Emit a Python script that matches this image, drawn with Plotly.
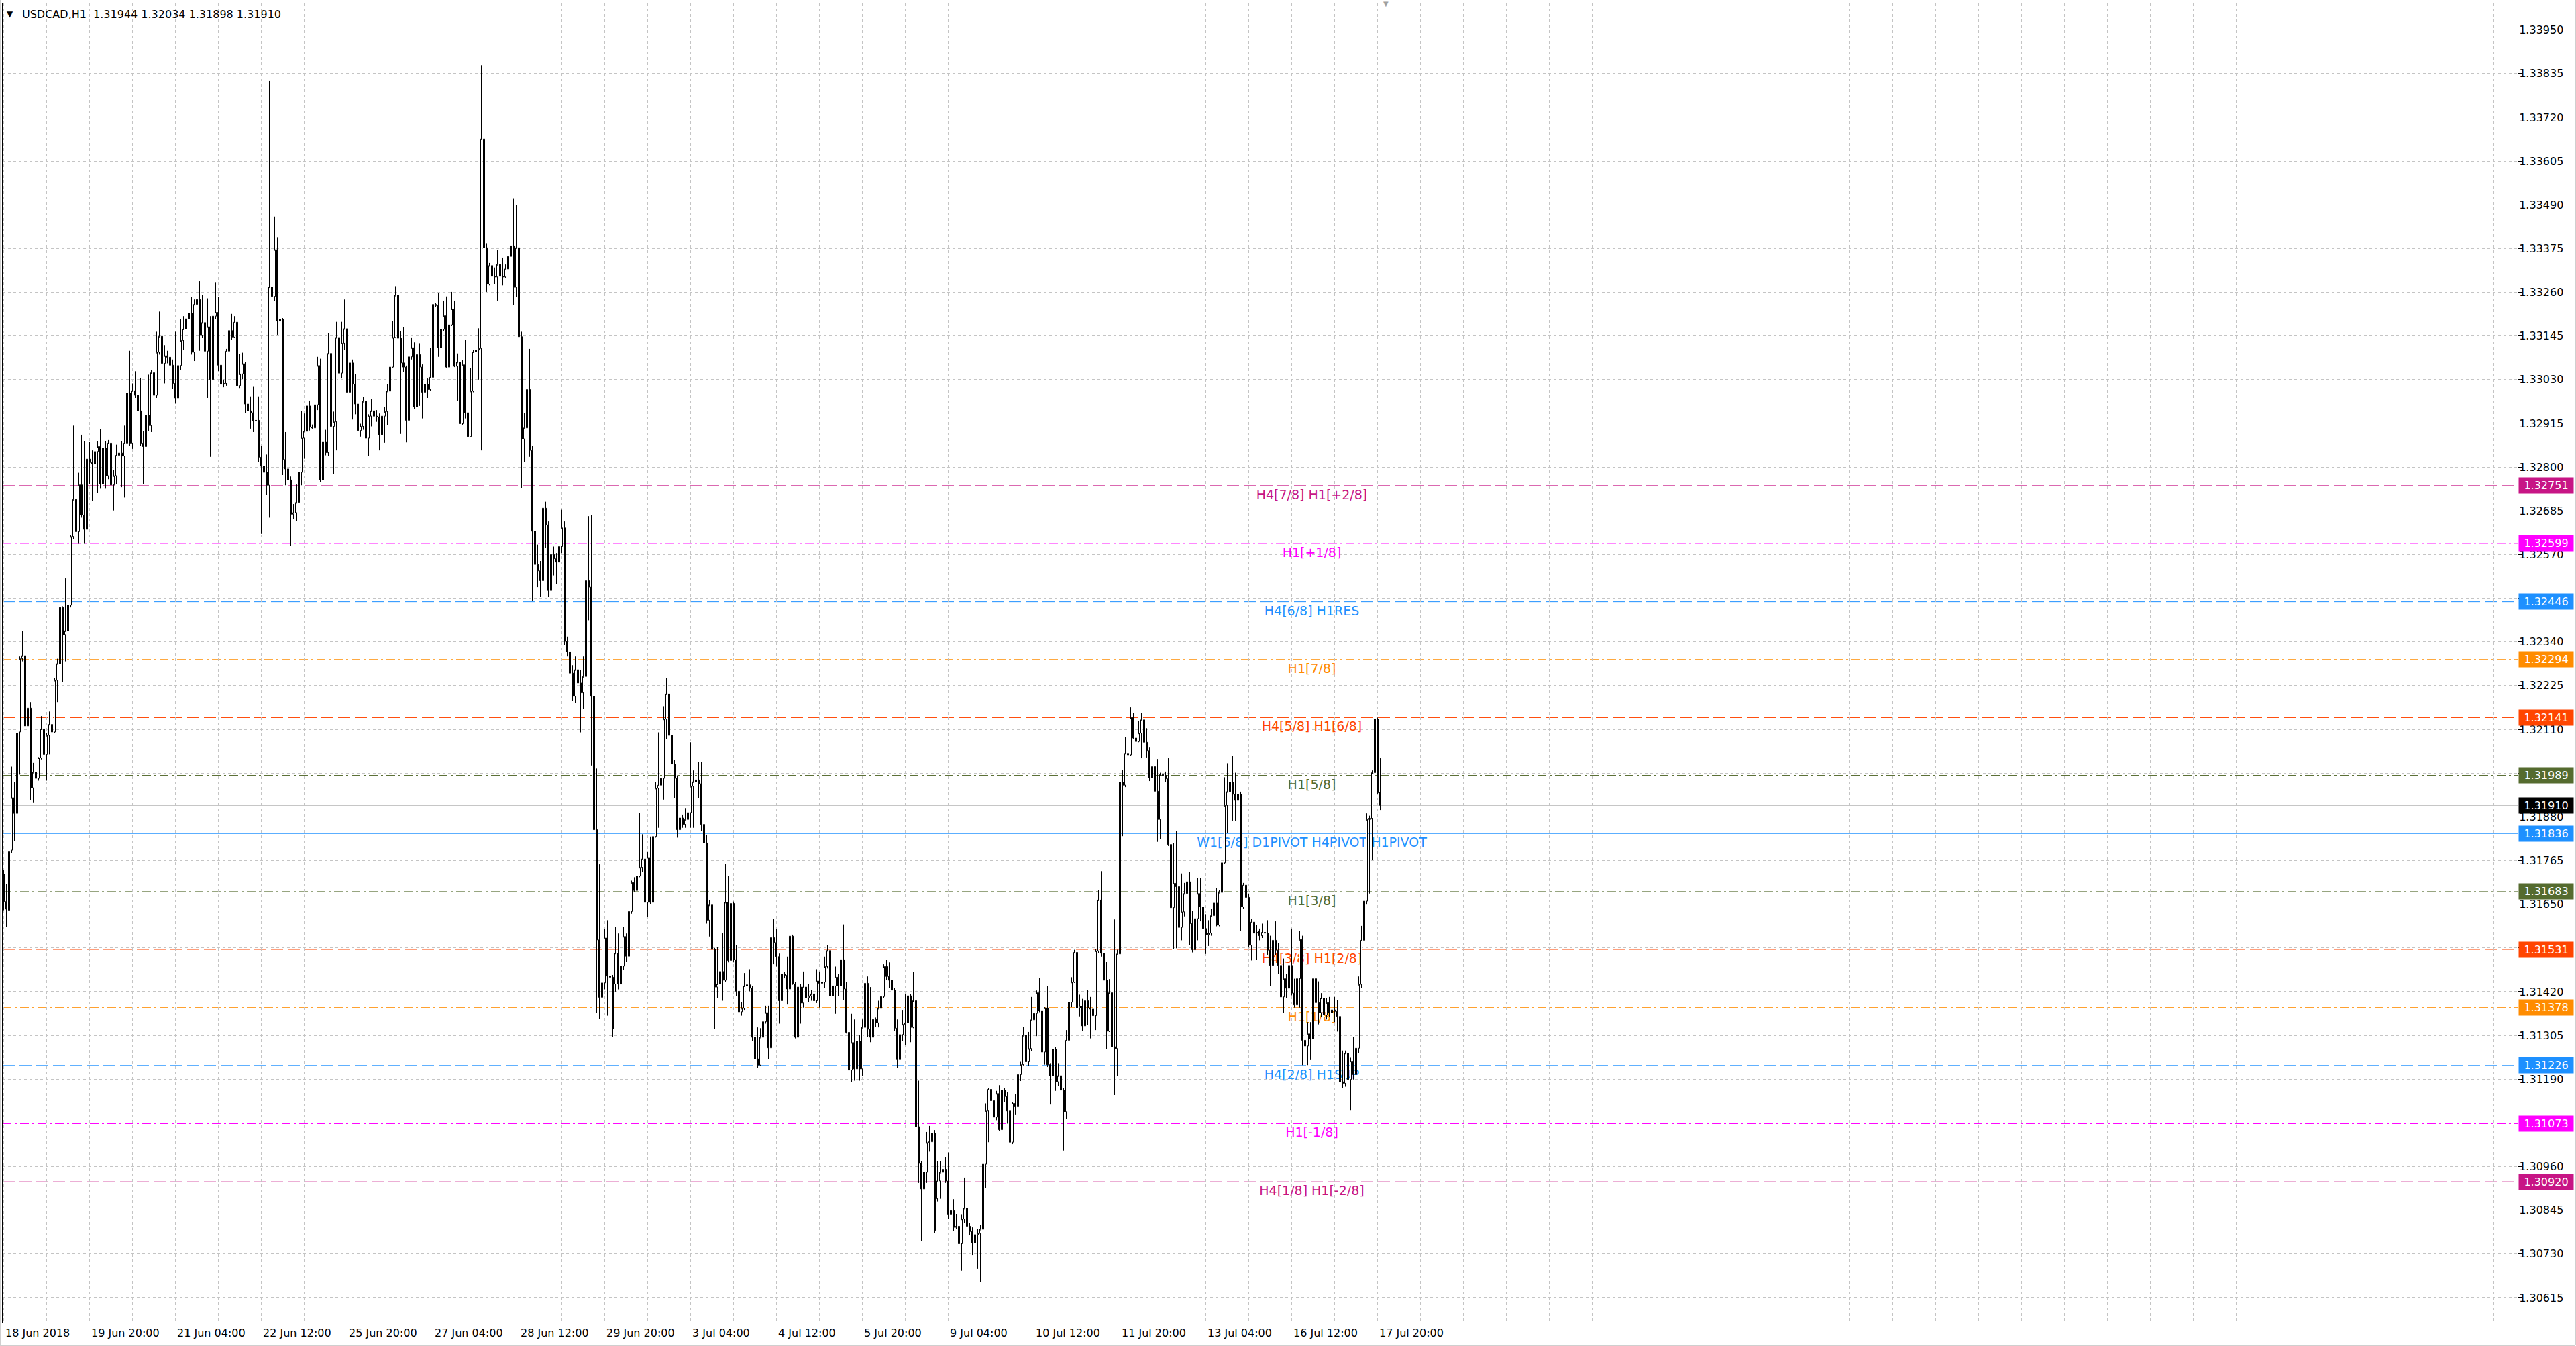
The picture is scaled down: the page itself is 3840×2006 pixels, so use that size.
import plotly.graph_objects as go

# ---------------- data (hourly USDCAD bars) ----------------
opens = [
1.31729,1.31657,1.31634,1.31792,1.31930,1.31889,1.32103,1.32296,1.32304,1.32119,
1.32166,1.31956,1.31997,1.31981,1.32035,1.32111,1.32044,1.32094,1.32123,1.32103,
1.32239,1.32283,1.32431,1.32359,1.32369,1.32437,1.32617,1.32715,1.32630,1.32753,
1.32674,1.32636,1.32821,1.32812,1.32808,1.32841,1.32854,1.32756,1.32850,1.32777,
1.32863,1.32753,1.32777,1.32831,1.32837,1.32829,1.32863,1.32995,1.32863,1.33001,
1.32989,1.32948,1.32863,1.32854,1.32936,1.32909,1.33048,1.32989,1.33102,1.33144,
1.33073,1.33093,1.33089,1.33068,1.33020,1.32982,1.33067,1.33133,1.33163,1.33190,
1.33205,1.33102,1.33228,1.33241,1.33146,1.33180,1.33105,1.33169,1.33030,1.33197,
1.33207,1.33068,1.33018,1.33020,1.33105,1.33159,1.33142,1.33181,1.33014,1.33045,
1.33072,1.32966,1.32948,1.32943,1.32921,1.32923,1.32826,1.32802,1.32786,1.32752,
1.33274,1.33249,1.33372,1.33184,1.33189,1.32820,1.32795,1.32766,1.32676,1.32680,
1.32707,1.32786,1.32876,1.32894,1.32961,1.32905,1.32903,1.32964,1.33067,1.32766,
1.32867,1.32838,1.33099,1.32907,1.32919,1.33141,1.33047,1.33126,1.33164,1.32997,
1.33074,1.33018,1.32966,1.32896,1.32907,1.32973,1.32876,1.32934,1.32948,1.32934,
1.32932,1.32885,1.32934,1.32946,1.33000,1.33063,1.33141,1.33252,1.33139,1.33074,
1.33063,1.32923,1.33090,1.33114,1.32959,1.33096,1.33063,1.32997,1.33018,1.33004,
1.33036,1.33228,1.33225,1.33114,1.33162,1.33198,1.33063,1.33174,1.33216,1.33065,
1.33076,1.32914,1.33069,1.32943,1.32880,1.33000,1.33103,1.33108,1.33112,1.33663,
1.33377,1.33281,1.33330,1.33302,1.33300,1.33333,1.33302,1.33300,1.33321,1.33354,
1.33382,1.33273,1.33377,1.33143,1.32874,1.32903,1.33004,1.32844,1.32631,1.32544,
1.32527,1.32501,1.32692,1.32648,1.32475,1.32570,1.32559,1.32550,1.32591,1.32640,
1.32341,1.32314,1.32258,1.32197,1.32267,1.32232,1.32206,1.32249,1.32501,1.32484,
1.32197,1.31846,1.31556,1.31405,1.31443,1.31561,1.31461,1.31458,1.31440,1.31521,
1.31440,1.31487,1.31565,1.31513,1.31631,1.31707,1.31686,1.31724,1.31747,1.31769,
1.31655,1.31773,1.31655,1.31828,1.31955,1.31963,1.31981,1.32137,1.32203,1.32094,
1.32019,1.31981,1.31846,1.31877,1.31860,1.31873,1.31891,1.31960,1.31972,1.31977,
1.31967,1.31860,1.31811,1.31608,1.31648,1.31531,1.31432,1.31440,1.31473,1.31450,
1.31655,1.31502,1.31652,1.31504,1.31421,1.31367,1.31376,1.31435,1.31438,1.31429,
1.31300,1.31243,1.31227,1.31300,1.31341,1.31365,1.31272,1.31562,1.31549,1.31512,
1.31396,1.31466,1.31463,1.31427,1.31566,1.31440,1.31300,1.31432,1.31390,1.31432,
1.31404,1.31409,1.31414,1.31396,1.31448,1.31442,1.31445,1.31486,1.31528,1.31409,
1.31435,1.31458,1.31435,1.31504,1.31427,1.31313,1.31214,1.31286,1.31217,1.31290,
1.31217,1.31326,1.31442,1.31321,1.31300,1.31347,1.31338,1.31376,1.31407,1.31486,
1.31460,1.31450,1.31424,1.31324,1.31241,1.31307,1.31334,1.31338,1.31409,1.31326,
1.31396,1.31065,1.30968,1.30901,1.30945,1.31023,1.31025,1.31048,1.30875,1.30922,
1.30945,1.30953,1.30922,1.30833,1.30844,1.30800,1.30803,1.30757,1.30822,1.30850,
1.30803,1.30789,1.30759,1.30781,1.30784,1.30795,1.30966,1.31106,1.31163,1.31133,
1.31090,1.31152,1.31057,1.31161,1.31144,1.31106,1.31024,1.31126,1.31117,1.31202,
1.31228,1.31305,1.31237,1.31270,1.31346,1.31363,1.31417,1.31370,1.31261,1.31377,
1.31228,1.31199,1.31268,1.31183,1.31199,1.31161,1.31104,1.31292,1.31392,1.31445,
1.31523,1.31377,1.31381,1.31330,1.31396,1.31377,1.31374,1.31357,1.31527,1.31661,
1.31521,1.31450,1.31316,1.31417,1.31275,1.31270,1.31519,1.31971,1.31963,1.32047,
1.32043,1.32141,1.32087,1.32078,1.32100,1.32135,1.32076,1.32054,1.31982,1.32012,
1.31947,1.31873,1.31991,1.31989,1.31980,1.31807,1.31641,1.31705,1.31696,1.31589,
1.31630,1.31678,1.31709,1.31599,1.31530,1.31612,1.31678,1.31643,1.31586,1.31570,
1.31574,1.31620,1.31653,1.31595,1.31681,1.31759,1.31910,1.31946,1.31971,1.31939,
1.31923,1.31939,1.31643,1.31700,1.31668,1.31542,1.31603,1.31574,1.31580,1.31567,
1.31576,1.31574,1.31529,1.31489,1.31555,1.31529,1.31489,1.31406,1.31454,1.31429,
1.31489,1.31416,1.31385,1.31454,1.31557,1.31292,1.31277,1.31309,1.31296,1.31454,
1.31391,1.31365,1.31403,1.31359,1.31391,1.31365,1.31372,1.31368,1.31355,1.31183,
1.31179,1.31258,1.31189,1.31237,1.31202,1.31271,1.31439,1.31555,1.31658,1.31873,
1.31876,1.31996,1.32137,1.31944]

highs = [
1.31741,1.31703,1.31842,1.32012,1.31972,1.32113,1.32302,1.32369,1.32350,1.32195,
1.32182,1.32022,1.32018,1.32037,1.32145,1.32166,1.32100,1.32157,1.32138,1.32245,
1.32296,1.32434,1.32434,1.32507,1.32441,1.32620,1.32909,1.32831,1.32785,1.32885,
1.32869,1.32879,1.32866,1.32844,1.32869,1.32869,1.32899,1.32894,1.32869,1.32871,
1.32926,1.32793,1.32859,1.32894,1.32869,1.32909,1.33020,1.33106,1.33020,1.33052,
1.33048,1.33035,1.32894,1.33100,1.33043,1.33055,1.33083,1.33156,1.33209,1.33190,
1.33121,1.33106,1.33125,1.33083,1.33156,1.33071,1.33190,1.33197,1.33228,1.33262,
1.33247,1.33241,1.33268,1.33289,1.33253,1.33350,1.33244,1.33197,1.33213,1.33285,
1.33247,1.33106,1.33030,1.33111,1.33215,1.33203,1.33197,1.33186,1.33098,1.33101,
1.33076,1.33002,1.32986,1.33011,1.33000,1.32986,1.32856,1.32887,1.32833,1.33817,
1.33351,1.33459,1.33405,1.33249,1.33192,1.32892,1.32806,1.32775,1.32703,1.32754,
1.32806,1.32948,1.32941,1.32973,1.32975,1.32912,1.33002,1.33090,1.33085,1.32878,
1.32898,1.33153,1.33102,1.32946,1.33182,1.33195,1.33182,1.33241,1.33186,1.33087,
1.33083,1.33045,1.32979,1.32914,1.32984,1.33006,1.32939,1.32979,1.32966,1.32950,
1.32941,1.32955,1.32959,1.33018,1.33099,1.33184,1.33276,1.33285,1.33157,1.33168,
1.33067,1.33171,1.33141,1.33128,1.33137,1.33126,1.33070,1.33056,1.33033,1.33114,
1.33234,1.33231,1.33258,1.33180,1.33238,1.33249,1.33238,1.33261,1.33238,1.33099,
1.33117,1.33081,1.33135,1.32968,1.33060,1.33108,1.33141,1.33165,1.33857,1.33670,
1.33389,1.33337,1.33351,1.33325,1.33372,1.33337,1.33351,1.33333,1.33417,1.33455,
1.33507,1.33489,1.33406,1.33156,1.32943,1.33018,1.33111,1.32856,1.32692,1.32596,
1.32553,1.32752,1.32709,1.32657,1.32574,1.32591,1.32574,1.32605,1.32688,1.32657,
1.32354,1.32319,1.32279,1.32302,1.32284,1.32267,1.32302,1.32539,1.32671,1.32674,
1.32206,1.32007,1.31755,1.31487,1.31585,1.31608,1.31495,1.31464,1.31590,1.31573,
1.31495,1.31590,1.31573,1.31638,1.31712,1.31721,1.31790,1.31891,1.31834,1.31773,
1.31787,1.31828,1.31851,1.31972,1.32102,1.32076,1.32171,1.32245,1.32206,1.32106,
1.32029,1.31989,1.31886,1.31886,1.31903,1.31912,1.32076,1.32002,1.32047,1.32024,
1.32024,1.31868,1.31833,1.31660,1.31680,1.31535,1.31538,1.31676,1.31575,1.31756,
1.31725,1.31659,1.31657,1.31543,1.31428,1.31393,1.31469,1.31471,1.31479,1.31435,
1.31331,1.31326,1.31324,1.31367,1.31383,1.31383,1.31597,1.31611,1.31585,1.31520,
1.31500,1.31471,1.31512,1.31569,1.31570,1.31445,1.31476,1.31440,1.31473,1.31479,
1.31440,1.31424,1.31445,1.31479,1.31473,1.31483,1.31512,1.31543,1.31569,1.31445,
1.31486,1.31466,1.31535,1.31597,1.31445,1.31326,1.31362,1.31347,1.31318,1.31305,
1.31347,1.31521,1.31460,1.31432,1.31378,1.31352,1.31396,1.31440,1.31492,1.31504,
1.31497,1.31458,1.31429,1.31347,1.31349,1.31372,1.31414,1.31445,1.31414,1.31471,
1.31400,1.31186,1.30974,1.30984,1.31051,1.31067,1.31072,1.31056,1.30974,1.30974,
1.31000,1.30984,1.30997,1.30860,1.30874,1.30835,1.30839,1.30833,1.30931,1.30879,
1.30811,1.30800,1.30811,1.30795,1.30806,1.30981,1.31126,1.31166,1.31224,1.31139,
1.31159,1.31174,1.31170,1.31166,1.31155,1.31108,1.31130,1.31150,1.31210,1.31237,
1.31327,1.31357,1.31314,1.31406,1.31379,1.31423,1.31456,1.31444,1.31379,1.31434,
1.31232,1.31283,1.31275,1.31232,1.31226,1.31166,1.31319,1.31456,1.31458,1.31530,
1.31548,1.31412,1.31401,1.31428,1.31425,1.31406,1.31425,1.31532,1.31687,1.31737,
1.31578,1.31499,1.31453,1.31467,1.31610,1.31530,1.31978,1.32004,1.32089,1.32111,
1.32168,1.32154,1.32127,1.32133,1.32154,1.32141,1.32113,1.32062,1.32094,1.32094,
1.32032,1.31996,1.31996,1.31999,1.32034,1.31854,1.31811,1.31843,1.31767,1.31731,
1.31706,1.31729,1.31734,1.31633,1.31633,1.31719,1.31719,1.31668,1.31624,1.31608,
1.31637,1.31675,1.31693,1.31687,1.31763,1.31984,1.32021,1.32084,1.32040,1.31996,
1.31958,1.31946,1.31706,1.31775,1.31678,1.31612,1.31608,1.31595,1.31586,1.31599,
1.31608,1.31608,1.31567,1.31567,1.31605,1.31548,1.31542,1.31507,1.31466,1.31555,
1.31586,1.31454,1.31517,1.31580,1.31567,1.31410,1.31340,1.31340,1.31482,1.31466,
1.31447,1.31416,1.31410,1.31403,1.31406,1.31391,1.31406,1.31397,1.31359,1.31265,
1.31265,1.31262,1.31246,1.31300,1.31275,1.31460,1.31593,1.31681,1.31889,1.31883,
1.32002,1.32185,1.32141,1.32034]

lows = [
1.31634,1.31590,1.31632,1.31785,1.31817,1.31863,1.31991,1.32289,1.32113,1.32100,
1.31924,1.31918,1.31956,1.31975,1.32031,1.32037,1.31975,1.32044,1.32075,1.32100,
1.32182,1.32277,1.32235,1.32289,1.32293,1.32431,1.32611,1.32531,1.32598,1.32667,
1.32598,1.32630,1.32756,1.32711,1.32768,1.32733,1.32743,1.32730,1.32743,1.32768,
1.32718,1.32686,1.32756,1.32819,1.32747,1.32720,1.32822,1.32856,1.32848,1.32982,
1.32932,1.32856,1.32756,1.32834,1.32894,1.32892,1.32982,1.32982,1.33096,1.33064,
1.33020,1.33073,1.33052,1.33005,1.32967,1.32938,1.33055,1.33108,1.33152,1.33152,
1.33096,1.33079,1.33224,1.33106,1.33140,1.32945,1.32982,1.32827,1.32999,1.33190,
1.33052,1.32967,1.33010,1.33014,1.33100,1.33134,1.33140,1.33010,1.33008,1.33031,
1.32943,1.32941,1.32901,1.32892,1.32860,1.32813,1.32624,1.32761,1.32727,1.32667,
1.33087,1.33237,1.33148,1.33130,1.32779,1.32752,1.32750,1.32592,1.32664,1.32658,
1.32698,1.32752,1.32822,1.32885,1.32896,1.32901,1.32896,1.32950,1.32761,1.32712,
1.32831,1.32829,1.32887,1.32781,1.32844,1.32946,1.33033,1.33108,1.32986,1.32939,
1.32925,1.32939,1.32860,1.32880,1.32898,1.32822,1.32829,1.32907,1.32896,1.32919,
1.32844,1.32802,1.32864,1.32910,1.32991,1.33060,1.33139,1.33065,1.32887,1.33050,
1.32865,1.32898,1.33083,1.32952,1.32946,1.32961,1.32928,1.32975,1.32982,1.33000,
1.33033,1.33222,1.33090,1.33112,1.33157,1.33060,1.33009,1.33171,1.33063,1.32975,
1.32820,1.32910,1.32928,1.32770,1.32878,1.32997,1.33099,1.33030,1.32844,1.33330,
1.33261,1.33278,1.33255,1.33281,1.33238,1.33243,1.33278,1.33298,1.33302,1.33273,
1.33226,1.33247,1.33117,1.32744,1.32813,1.32848,1.32827,1.32449,1.32411,1.32484,
1.32458,1.32452,1.32588,1.32458,1.32435,1.32515,1.32492,1.32518,1.32574,1.32331,
1.32302,1.32206,1.32185,1.32180,1.32189,1.32102,1.32163,1.32241,1.32397,1.32015,
1.31825,1.31365,1.31348,1.31313,1.31426,1.31357,1.31452,1.31301,1.31420,1.31426,
1.31391,1.31478,1.31499,1.31504,1.31625,1.31683,1.31683,1.31721,1.31735,1.31603,
1.31617,1.31651,1.31651,1.31825,1.31851,1.31868,1.31925,1.32085,1.32064,1.32012,
1.31929,1.31825,1.31794,1.31851,1.31851,1.31828,1.31851,1.31851,1.31955,1.31929,
1.31842,1.31787,1.31599,1.31565,1.31469,1.31321,1.31403,1.31409,1.31396,1.31445,
1.31497,1.31500,1.31497,1.31409,1.31347,1.31357,1.31372,1.31419,1.31421,1.31290,
1.31113,1.31220,1.31224,1.31297,1.31336,1.31243,1.31259,1.31492,1.31486,1.31336,
1.31367,1.31455,1.31386,1.31398,1.31438,1.31297,1.31276,1.31336,1.31378,1.31393,
1.31393,1.31396,1.31367,1.31390,1.31378,1.31372,1.31429,1.31481,1.31406,1.31344,
1.31362,1.31409,1.31424,1.31398,1.31310,1.31152,1.31183,1.31186,1.31181,1.31186,
1.31199,1.31253,1.31300,1.31287,1.31295,1.31328,1.31326,1.31347,1.31403,1.31450,
1.31429,1.31403,1.31316,1.31220,1.31235,1.31290,1.31279,1.31331,1.31287,1.31324,
1.30865,1.30917,1.30764,1.30868,1.30917,1.30999,1.31020,1.30785,1.30868,1.30875,
1.30941,1.30917,1.30822,1.30822,1.30791,1.30795,1.30751,1.30686,1.30811,1.30795,
1.30779,1.30726,1.30713,1.30691,1.30656,1.30702,1.30904,1.31024,1.31084,1.31079,
1.31082,1.31054,1.31054,1.31130,1.31073,1.31010,1.31019,1.31097,1.31112,1.31185,
1.31226,1.31228,1.31224,1.31264,1.31297,1.31303,1.31366,1.31218,1.31228,1.31222,
1.31123,1.31194,1.31159,1.31172,1.31155,1.31002,1.31086,1.31290,1.31379,1.31443,
1.31374,1.31355,1.31316,1.31319,1.31333,1.31297,1.31330,1.31319,1.31521,1.31512,
1.31443,1.31268,1.31314,1.30637,1.31148,1.31199,1.31510,1.31829,1.31958,1.32012,
1.32040,1.32084,1.32073,1.32076,1.32034,1.32051,1.32036,1.31974,1.31925,1.31942,
1.31814,1.31821,1.31982,1.31971,1.31803,1.31490,1.31532,1.31534,1.31541,1.31555,
1.31618,1.31656,1.31542,1.31523,1.31517,1.31555,1.31605,1.31567,1.31519,1.31540,
1.31567,1.31603,1.31592,1.31592,1.31678,1.31757,1.31838,1.31845,1.31870,1.31870,
1.31902,1.31580,1.31637,1.31612,1.31536,1.31502,1.31507,1.31504,1.31555,1.31561,
1.31529,1.31517,1.31435,1.31479,1.31517,1.31466,1.31365,1.31365,1.31403,1.31378,
1.31410,1.31378,1.31372,1.31378,1.31227,1.31094,1.31227,1.31240,1.31290,1.31378,
1.31334,1.31353,1.31347,1.31347,1.31353,1.31347,1.31340,1.31315,1.31158,1.31166,
1.31170,1.31139,1.31107,1.31189,1.31145,1.31258,1.31429,1.31552,1.31649,1.31678,
1.31767,1.31870,1.31939,1.31898]

closes = [
1.31657,1.31637,1.31788,1.31930,1.31889,1.32100,1.32296,1.32304,1.32119,1.32166,
1.31956,1.31997,1.31981,1.32035,1.32111,1.32044,1.32094,1.32123,1.32103,1.32239,
1.32283,1.32431,1.32359,1.32369,1.32437,1.32617,1.32715,1.32630,1.32753,1.32674,
1.32636,1.32821,1.32812,1.32808,1.32841,1.32854,1.32756,1.32850,1.32777,1.32863,
1.32753,1.32777,1.32831,1.32837,1.32829,1.32863,1.32995,1.32863,1.33001,1.32989,
1.32948,1.32863,1.32854,1.32936,1.32909,1.33048,1.32989,1.33102,1.33144,1.33073,
1.33093,1.33089,1.33068,1.33020,1.32982,1.33067,1.33133,1.33163,1.33190,1.33205,
1.33102,1.33228,1.33241,1.33146,1.33180,1.33105,1.33169,1.33030,1.33197,1.33207,
1.33068,1.33018,1.33020,1.33105,1.33159,1.33142,1.33181,1.33014,1.33045,1.33072,
1.32966,1.32948,1.32943,1.32921,1.32923,1.32826,1.32802,1.32786,1.32752,1.33274,
1.33249,1.33372,1.33184,1.33189,1.32820,1.32795,1.32766,1.32676,1.32680,1.32707,
1.32786,1.32876,1.32894,1.32961,1.32905,1.32903,1.32964,1.33067,1.32766,1.32867,
1.32838,1.33099,1.32907,1.32919,1.33141,1.33047,1.33126,1.33164,1.32997,1.33074,
1.33018,1.32966,1.32896,1.32907,1.32973,1.32876,1.32934,1.32948,1.32934,1.32932,
1.32885,1.32934,1.32946,1.33000,1.33063,1.33141,1.33252,1.33139,1.33074,1.33063,
1.32923,1.33090,1.33114,1.32959,1.33096,1.33063,1.32997,1.33018,1.33004,1.33036,
1.33228,1.33225,1.33114,1.33162,1.33198,1.33063,1.33174,1.33216,1.33065,1.33076,
1.32914,1.33069,1.32943,1.32880,1.33000,1.33103,1.33108,1.33112,1.33663,1.33377,
1.33281,1.33330,1.33302,1.33300,1.33333,1.33302,1.33300,1.33321,1.33354,1.33382,
1.33273,1.33377,1.33143,1.32874,1.32903,1.33004,1.32844,1.32631,1.32544,1.32527,
1.32501,1.32692,1.32648,1.32475,1.32570,1.32559,1.32550,1.32591,1.32640,1.32341,
1.32314,1.32258,1.32197,1.32267,1.32232,1.32206,1.32249,1.32501,1.32484,1.32197,
1.31846,1.31556,1.31405,1.31443,1.31561,1.31461,1.31458,1.31322,1.31521,1.31440,
1.31487,1.31565,1.31513,1.31631,1.31707,1.31686,1.31724,1.31747,1.31769,1.31655,
1.31773,1.31655,1.31828,1.31955,1.31963,1.31981,1.32137,1.32203,1.32094,1.32019,
1.31981,1.31846,1.31877,1.31860,1.31873,1.31891,1.31960,1.31972,1.31977,1.31967,
1.31860,1.31811,1.31608,1.31648,1.31531,1.31432,1.31440,1.31473,1.31450,1.31655,
1.31502,1.31652,1.31504,1.31421,1.31367,1.31376,1.31435,1.31438,1.31429,1.31300,
1.31243,1.31227,1.31300,1.31341,1.31365,1.31272,1.31562,1.31549,1.31512,1.31396,
1.31466,1.31463,1.31427,1.31566,1.31440,1.31300,1.31432,1.31390,1.31432,1.31404,
1.31409,1.31414,1.31396,1.31448,1.31442,1.31445,1.31486,1.31528,1.31409,1.31435,
1.31458,1.31435,1.31504,1.31427,1.31313,1.31214,1.31286,1.31217,1.31290,1.31217,
1.31326,1.31442,1.31321,1.31300,1.31347,1.31338,1.31376,1.31407,1.31486,1.31460,
1.31450,1.31424,1.31324,1.31241,1.31307,1.31334,1.31338,1.31409,1.31326,1.31396,
1.31065,1.30968,1.30901,1.30945,1.31023,1.31025,1.31048,1.30792,1.30922,1.30945,
1.30953,1.30922,1.30833,1.30844,1.30800,1.30803,1.30757,1.30822,1.30850,1.30803,
1.30789,1.30759,1.30781,1.30784,1.30795,1.30966,1.31106,1.31163,1.31133,1.31090,
1.31152,1.31057,1.31161,1.31144,1.31106,1.31024,1.31126,1.31117,1.31202,1.31228,
1.31305,1.31237,1.31270,1.31346,1.31363,1.31417,1.31370,1.31261,1.31377,1.31228,
1.31199,1.31268,1.31183,1.31199,1.31161,1.31104,1.31292,1.31392,1.31445,1.31523,
1.31377,1.31381,1.31330,1.31396,1.31377,1.31374,1.31357,1.31527,1.31661,1.31521,
1.31450,1.31316,1.31417,1.31275,1.31270,1.31519,1.31971,1.31963,1.32047,1.32043,
1.32141,1.32087,1.32078,1.32100,1.32135,1.32076,1.32054,1.31982,1.32012,1.31947,
1.31873,1.31991,1.31989,1.31980,1.31807,1.31641,1.31705,1.31696,1.31589,1.31630,
1.31678,1.31709,1.31599,1.31530,1.31612,1.31678,1.31643,1.31586,1.31570,1.31574,
1.31620,1.31653,1.31595,1.31681,1.31759,1.31910,1.31946,1.31971,1.31939,1.31923,
1.31939,1.31643,1.31700,1.31668,1.31542,1.31603,1.31574,1.31576,1.31567,1.31576,
1.31574,1.31529,1.31489,1.31555,1.31529,1.31489,1.31406,1.31454,1.31429,1.31489,
1.31416,1.31385,1.31454,1.31557,1.31292,1.31277,1.31309,1.31296,1.31454,1.31391,
1.31365,1.31403,1.31359,1.31391,1.31365,1.31372,1.31368,1.31355,1.31183,1.31179,
1.31258,1.31189,1.31237,1.31202,1.31271,1.31439,1.31555,1.31658,1.31873,1.31876,
1.31996,1.32137,1.31943,1.31910]

symbol = "USDCAD,H1"

time_label_bars = [0, 32, 64, 96, 128, 160, 192, 224, 256, 288, 320, 352, 384, 416, 448, 480, 512]
time_labels = ["18 Jun 2018", "19 Jun 20:00", "21 Jun 04:00", "22 Jun 12:00", "25 Jun 20:00",
               "27 Jun 04:00", "28 Jun 12:00", "29 Jun 20:00", "3 Jul 04:00", "4 Jul 12:00",
               "5 Jul 20:00", "9 Jul 04:00", "10 Jul 12:00", "11 Jul 20:00", "13 Jul 04:00",
               "16 Jul 12:00", "17 Jul 20:00"]

price_ticks = [1.30615, 1.30730, 1.30845, 1.30960, 1.31075, 1.31190, 1.31305, 1.31420,
               1.31535, 1.31650, 1.31765, 1.31880, 1.31995, 1.32110, 1.32225, 1.32340,
               1.32455, 1.32570, 1.32685, 1.32800, 1.32915, 1.33030, 1.33145, 1.33260,
               1.33375, 1.33490, 1.33605, 1.33720, 1.33835, 1.33950]

levels = [1.32751, 1.32599, 1.32446, 1.32294, 1.32141, 1.31989, 1.31836,
          1.31683, 1.31531, 1.31378, 1.31226, 1.31073, 1.30920]
level_names = ["H4[7/8] H1[+2/8]", "H1[+1/8]", "H4[6/8] H1RES", "H1[7/8]",
               "H4[5/8] H1[6/8]", "H1[5/8]", "W1[6/8] D1PIVOT H4PIVOT H1PIVOT",
               "H1[3/8]", "H4[3/8] H1[2/8]", "H1[1/8]", "H4[2/8] H1SUP",
               "H1[-1/8]", "H4[1/8] H1[-2/8]"]
level_colors = ["#C71585", "#FF00FF", "#1E90FF", "#FF8C00", "#FF4500", "#556B2F", "#1E90FF",
                "#556B2F", "#FF4500", "#FF8C00", "#1E90FF", "#FF00FF", "#C71585"]
level_styles = ["dash", "dashdot", "dash", "dashdot", "dash", "dashdot", "solid",
                "dashdot", "dash", "dashdot", "dash", "dashdot", "dash"]

# ---------------- layout constants ----------------
W, H = 3840, 2006
ML, MR, MT, MB = 4, 87, 5, 35
FONT = "DejaVu Sans"
Y_RANGE = [1.305496, 1.340199]
X_RANGE = [-0.375, 936.875]     # 4 px per bar, bar centres on half pixels (crisp 1px strokes)
LABEL_BAR = 487.5
DASHES = {"dash": "18px,7px", "dashdot": "13px,5px,3px,5px", "solid": "solid"}

n = min(len(opens), len(highs), len(lows), len(closes))
bars = list(range(n))

fig = go.Figure()
fig.add_trace(go.Candlestick(
    x=bars, open=opens[:n], high=highs[:n], low=lows[:n], close=closes[:n],
    increasing=dict(line=dict(color="black", width=1), fillcolor="white"),
    decreasing=dict(line=dict(color="black", width=1), fillcolor="black"),
    whiskerwidth=0, hoverinfo="skip", showlegend=False))

shapes = []
annotations = []

# level lines + centred level texts (drawn beneath the candles)
for lv, name, col, sty in zip(levels, level_names, level_colors, level_styles):
    shapes.append(dict(type="line", xref="paper", yref="y", x0=0, x1=1, y0=lv, y1=lv,
                       line=dict(color=col, width=1, dash=DASHES[sty]), layer="between"))
    shapes.append(dict(type="line", xref="x", yref="y", x0=LABEL_BAR - 8, x1=LABEL_BAR + 8,
                       y0=lv, y1=lv, line=dict(color="rgba(0,0,0,0)", width=0),
                       layer="between",
                       label=dict(text=name, textposition="middle", yanchor="top", padding=1,
                                  font=dict(family=FONT, size=19, color=col))))

# current price line
last_close = closes[n - 1]
shapes.append(dict(type="line", xref="paper", yref="y", x0=0, x1=1, y0=last_close, y1=last_close,
                   line=dict(color="#B8B8B8", width=1), layer="between"))

# outer window frame
shapes.append(dict(type="rect", xref="paper", yref="paper",
                   x0=-ML / (W - ML - MR), x1=(W - 1 - ML) / (W - ML - MR),
                   y0=-(MB - 1) / (H - MT - MB), y1=(H - MT) / (H - MT - MB),
                   line=dict(color="#A0A0A0", width=1), layer="below"))

# price boxes on the right axis
for lv, col in zip(levels, level_colors):
    annotations.append(dict(xref="paper", yref="y", x=1, y=lv, xanchor="left", yanchor="middle",
                            xshift=1, text=f"{lv:.5f}", showarrow=False, bgcolor=col,
                            width=81, height=23, borderpad=0, align="center",
                            font=dict(family=FONT, size=16, color="white")))
annotations.append(dict(xref="paper", yref="y", x=1, y=last_close, xanchor="left", yanchor="middle",
                        xshift=1, text=f"{last_close:.5f}", showarrow=False, bgcolor="black",
                        width=81, height=23, borderpad=0, align="center",
                        font=dict(family=FONT, size=16, color="white")))

# time labels (left aligned at their bar, like MT4)
for b, t in zip(time_label_bars, time_labels):
    annotations.append(dict(xref="x", yref="paper", x=b, y=0, xanchor="left", yanchor="top",
                            xshift=0, yshift=-4, text=t, showarrow=False,
                            font=dict(family=FONT, size=16, color="black")))

# header
annotations.append(dict(xref="paper", yref="paper", x=0, y=1, xanchor="left", yanchor="top",
                        xshift=4, yshift=-7, text="\u25BC", showarrow=False,
                        font=dict(family=FONT, size=12, color="black")))
header = f"{symbol}  {opens[n-1]:.5f} {highs[n-1]:.5f} {lows[n-1]:.5f} {closes[n-1]:.5f}"
annotations.append(dict(xref="paper", yref="paper", x=0, y=1, xanchor="left", yanchor="top",
                        xshift=27, yshift=-5, text=header, showarrow=False,
                        font=dict(family=FONT, size=16, color="black")))

# chart-shift marker at top
annotations.append(dict(xref="x", yref="paper", x=n + 1, y=1, xanchor="center", yanchor="middle",
                        yshift=0, text="\u25BC", showarrow=False,
                        font=dict(family=FONT, size=10, color="#A0A0A0")))

fig.update_layout(
    width=W, height=H,
    margin=dict(l=ML, r=MR, t=MT, b=MB, pad=0),
    paper_bgcolor="white", plot_bgcolor="white",
    showlegend=False, boxgap=0.5, boxgroupgap=0,
    shapes=shapes, annotations=annotations,
    hovermode=False,
    xaxis=dict(range=X_RANGE, tickvals=list(range(0, 937, 16)), showticklabels=False,
               ticks="", showgrid=True, gridcolor="#C4C4C4", gridwidth=1, griddash="4px,4px",
               zeroline=False, showline=True, mirror=True, linecolor="black", linewidth=1,
               rangeslider=dict(visible=False), fixedrange=True),
    yaxis=dict(range=Y_RANGE, side="right", tickvals=price_ticks,
               ticktext=[f"{v:.5f}" for v in price_ticks],
               ticks="outside", ticklen=5, tickcolor="black", tickwidth=1,
               ticklabelstandoff=-7,
               tickfont=dict(family=FONT, size=16, color="black"),
               showgrid=True, gridcolor="#C4C4C4", gridwidth=1, griddash="4px,4px",
               zeroline=False, showline=True, mirror=True, linecolor="black", linewidth=1,
               fixedrange=True),
)

fig.write_html("out.html",
               config={"displayModeBar": False, "staticPlot": True},
               post_script="document.body.style.margin='0';document.body.style.overflow='hidden';")
